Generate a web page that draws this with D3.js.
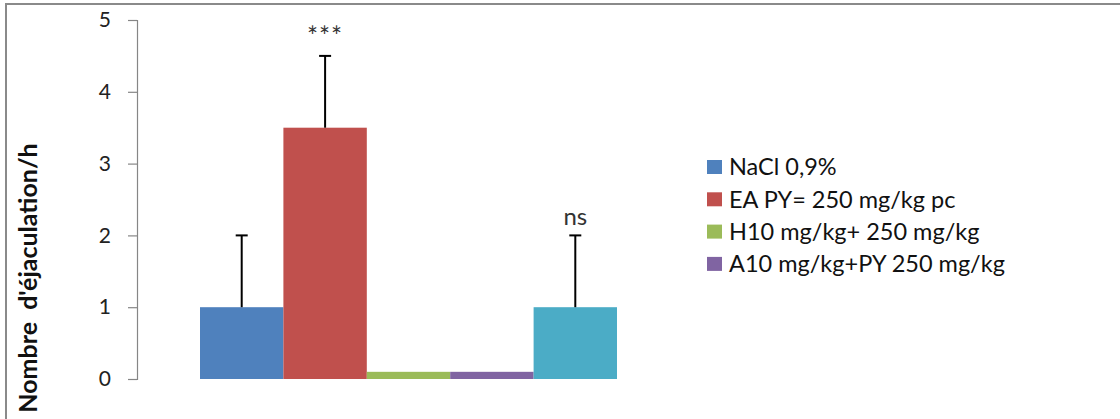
<!DOCTYPE html>
<html><head><meta charset="utf-8">
<script src="https://cdn.jsdelivr.net/npm/d3@7"></script>
<style>body{margin:0;background:#fff;}svg{display:block;font-family:Lato,"Open Sans",sans-serif;}</style>
</head><body>
<svg id="c" width="1120" height="419"></svg>
<script>
const seriesNames = ["NaCl 0,9%", "EA PY= 250 mg/kg pc", "H10 mg/kg+ 250 mg/kg", "A10 mg/kg+PY 250 mg/kg", ""];
const seriesValues = [1, 3.5, 0.1, 0.1, 1];
const errorValues = [1, 1, 0, 0, 1];
const annotations = ["", "***", "", "", "ns"];
const seriesColors = ["#4F81BD", "#C0504D", "#9BBB59", "#8064A2", "#4BACC6"];
const yTicks = [0, 1, 2, 3, 4, 5];
const legendCount = 4;
const yTitle = "Nombre  d'éjaculation/h";

const svg = d3.select("#c");
// outer frame
svg.append("rect").attr("x", 6).attr("y", 4).attr("width", 1200).attr("height", 600)
  .attr("fill", "none").attr("stroke", "#8a8a8a").attr("stroke-width", 2);

const y = d3.scaleLinear().domain([0, 5]).range([379, 20]);
const x = d3.scaleBand().domain(d3.range(seriesValues.length)).range([200, 617]).padding(0);

// y axis
const yAxis = d3.axisLeft(y).tickValues(yTicks).tickSize(9).tickPadding(17).tickFormat(d3.format("d"));
const ga = svg.append("g").attr("transform", "translate(137,0)").call(yAxis);
ga.select(".domain").attr("stroke", "#868686").attr("stroke-width", 1.2);
ga.selectAll(".tick line").attr("stroke", "#868686").attr("stroke-width", 1.2);
ga.selectAll(".tick text").attr("font-size", 21).attr("fill", "#222").attr("font-family", "Lato");

// bars
svg.selectAll("rect.bar").data(seriesValues).join("rect").attr("class", "bar")
  .attr("x", (d, i) => x(i)).attr("width", x.bandwidth())
  .attr("y", d => y(d)).attr("height", d => y(0) - y(d))
  .attr("fill", (d, i) => seriesColors[i]);

// error bars
const eb = svg.append("g").attr("stroke", "#000").attr("stroke-width", 2);
seriesValues.forEach((v, i) => {
  if (!errorValues[i]) return;
  const cx = x(i) + x.bandwidth() / 2;
  eb.append("line").attr("x1", cx).attr("x2", cx).attr("y1", y(v)).attr("y2", y(v + errorValues[i]));
  eb.append("line").attr("x1", cx - 6).attr("x2", cx + 6).attr("y1", y(v + errorValues[i])).attr("y2", y(v + errorValues[i]));
});

// annotations
annotations.forEach((t, i) => {
  if (!t) return;
  const top = y(seriesValues[i] + errorValues[i]);
  svg.append("text").attr("x", x(i) + x.bandwidth() / 2).attr("y", top - 19)
    .attr("dy", "0.35em")
    .attr("text-anchor", "middle").attr("font-size", t === "***" ? 26 : 24).attr("fill", "#333")
    .attr("letter-spacing", t === "***" ? 1 : 0).text(t);
});

// y title
svg.append("text").attr("transform", "translate(37,278) rotate(-90)")
  .attr("text-anchor", "middle").attr("font-size", 25).attr("font-weight", "bold")
  .attr("fill", "#111").attr("xml:space", "preserve").style("white-space", "pre").text(yTitle);

// legend
const lg = svg.append("g").attr("transform", "translate(707,0)");
seriesNames.slice(0, legendCount).forEach((n, i) => {
  const cy = 167 + i * 32.3;
  lg.append("rect").attr("x", 0).attr("y", cy - 7).attr("width", 15).attr("height", 14).attr("fill", seriesColors[i]);
  lg.append("text").attr("x", 22).attr("y", cy).attr("dy", "0.35em").attr("font-size", 23.5).attr("fill", "#111").text(n);
});
</script>
</body></html>
